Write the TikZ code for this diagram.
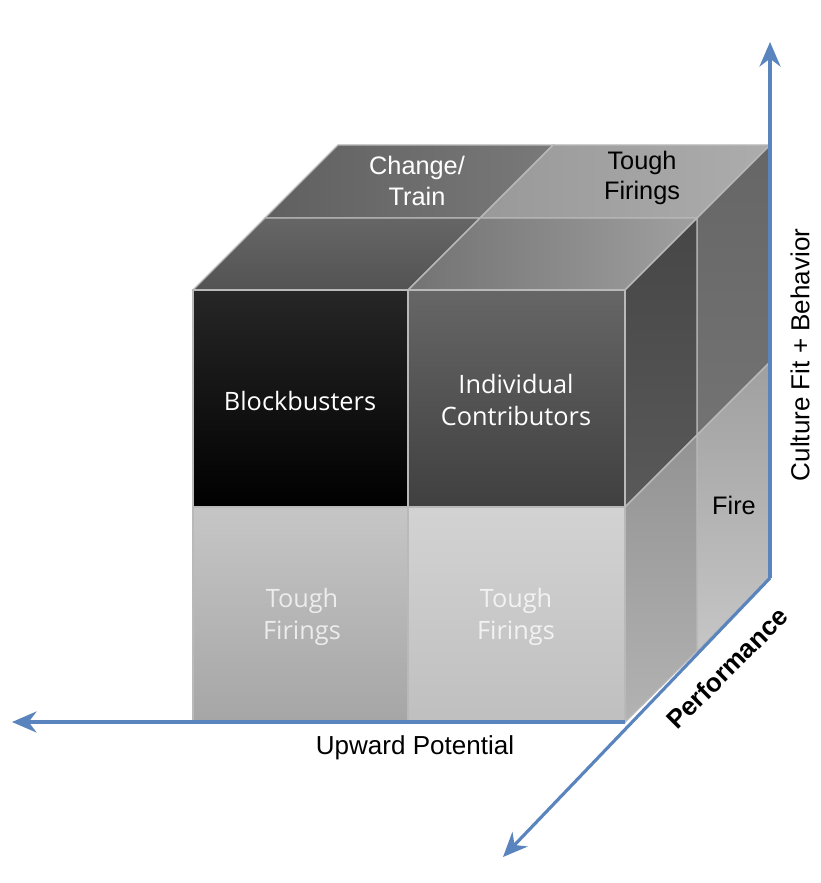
\documentclass[tikz,border=0pt]{standalone}
\usepackage{fontspec}
\setmainfont{Liberation Sans}
\newfontfamily\cellfont{Open Sans}
\usetikzlibrary{arrows.meta}
\definecolor{axisblue}{HTML}{5A84BD}
\tikzset{
 face/.style={draw=gray!55,line width=0.4pt},
 cell/.style={text=white,font=\cellfont\fontsize{7.2}{9}\selectfont,align=center},
 toplbl/.style={text=black,font=\fontsize{7.2}{8.6}\selectfont,align=center},
 axis/.style={draw=axisblue,line width=0.9pt,-{Stealth[length=7pt,width=6pt]}},
 axlbl/.style={font=\fontsize{7.4}{8.8}\selectfont}
}
\begin{document}
\begin{tikzpicture}[x=0.01cm,y=-0.01cm]
 \useasboundingbox (0,0) rectangle (820,883);
 % back row, top faces
 \shade[face,left color=gray!75!black,right color=gray!95!black] (265,218) -- (480,218) -- (553,145) -- (338,145) -- cycle;
 \shade[face,left color=gray!80,right color=gray!65] (480,218) -- (697,218) -- (770,145) -- (553,145) -- cycle;
 % back column, right faces
 \shade[face,top color=gray!80!black,bottom color=gray!90!black] (697,218) -- (770,145) -- (770,362) -- (697,435) -- cycle;
 \shade[face,top color=gray!75,bottom color=gray!45] (697,435) -- (770,362) -- (770,578) -- (697,651) -- cycle;
 % front row, top faces
 \shade[face,top color=gray!80!black,bottom color=gray!65!black] (193,290) -- (408,290) -- (480,218) -- (265,218) -- cycle;
 \shade[face,left color=gray!90!black,right color=gray!75] (408,290) -- (625,290) -- (697,218) -- (480,218) -- cycle;
 % front column, right faces
 \shade[face,top color=gray!55!black,bottom color=gray!70!black] (625,290) -- (697,218) -- (697,435) -- (625,507) -- cycle;
 \shade[face,top color=gray!85,bottom color=gray!60] (625,507) -- (697,435) -- (697,651) -- (625,722) -- cycle;
 % front faces
 \shade[face,top color=black!85,bottom color=black] (193,290) rectangle (408,507);
 \shade[face,top color=black!60,bottom color=black!75] (408,290) rectangle (625,507);
 \shade[face,top color=gray!45,bottom color=gray!70] (193,507) rectangle (408,722);
 \shade[face,top color=gray!35,bottom color=gray!50] (408,507) rectangle (625,722);
 % labels
 \node[cell] (bb) at (300,401) {Blockbusters};
 \node[cell] (ic) at (516,400) {Individual\\Contributors};
 \node[cell,text=gray!15] (tf1) at (302,617) {Tough\\Firings};
 \node[cell,text=gray!10] (tf2) at (516,617) {Tough\\Firings};
 \node[toplbl,text=white] (ct) at (417,181) {Change/\\Train};
 \node[toplbl] (tf3) at (642,178) {Tough\\Firings};
 \node[toplbl] (fire) at (734,505) {Fire};
 % axes
 \coordinate (o) at (625,722);
 \coordinate (c) at (770,578);
 \coordinate (up) at (770,42);
 \coordinate (lf) at (12,722);
 \coordinate (dn) at (503,857);
 \draw[axis] (o) -- (lf);
 \draw[axis] (c) -- (up);
 \draw[axis] (c) -- (dn);
 \node[axlbl] (xl) at (415,748) {Upward Potential};
 \node[axlbl,rotate=90] (yl) at (800,355) {Culture Fit + Behavior};
 \node[axlbl,inner sep=0pt,font=\bfseries\fontsize{7.4}{8.8}\selectfont,rotate=45] (zl) at (727,668) {Performance};
\end{tikzpicture}
\end{document}
